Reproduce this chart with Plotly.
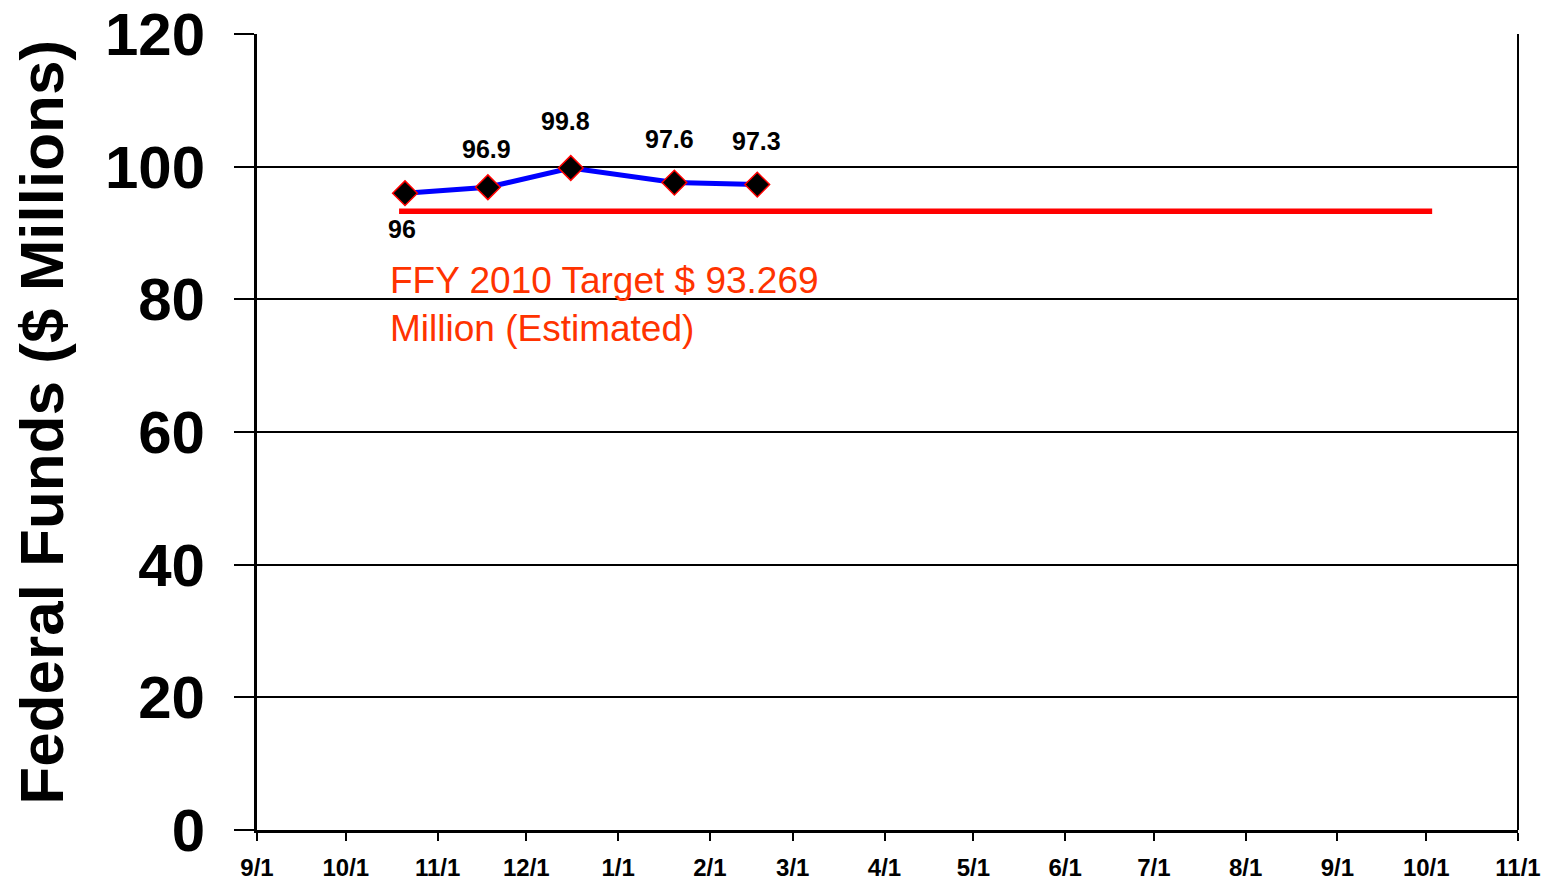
import plotly.graph_objects as go

# Data
dates = ["2009-10-21", "2009-11-18", "2009-12-16", "2010-01-20", "2010-02-17"]
values = [96, 96.9, 99.8, 97.6, 97.3]
label_texts = ["96", "96.9", "99.8", "97.6", "97.3"]
target_dates = ["2009-10-19", "2010-10-03"]
target_value = 93.269
target_values = [target_value, target_value]
tick_dates = ["2009-09-01", "2009-10-01", "2009-11-01", "2009-12-01", "2010-01-01",
              "2010-02-01", "2010-03-01", "2010-04-01", "2010-05-01", "2010-06-01",
              "2010-07-01", "2010-08-01", "2010-09-01", "2010-10-01", "2010-11-01"]
tick_labels = ["9/1", "10/1", "11/1", "12/1", "1/1", "2/1", "3/1", "4/1", "5/1",
               "6/1", "7/1", "8/1", "9/1", "10/1", "11/1"]
y_ticks = [0, 20, 40, 60, 80, 100, 120]
y_title = "Federal Funds ($ Millions)"

# label offsets (style)
label_yshift = [-36, 38, 47, 44, 44]
label_xshift = [-3, -1, -5, -5, -1]

FONT = "Liberation Sans, Arial, sans-serif"

fig = go.Figure()
fig.add_trace(go.Scatter(
    x=target_dates, y=target_values, mode="lines",
    line=dict(color="#FF0000", width=5.5), hoverinfo="skip", showlegend=False))
fig.add_trace(go.Scatter(
    x=dates, y=values, mode="lines+markers",
    line=dict(color="#0000FF", width=5),
    marker=dict(symbol="diamond", size=19, color="black",
                line=dict(color="#FF0000", width=1.5)),
    showlegend=False))

for d, v, t, ys, xs in zip(dates, values, label_texts, label_yshift, label_xshift):
    fig.add_annotation(x=d, y=v, text=t, showarrow=False, yshift=ys, xshift=xs,
                       font=dict(family=FONT, size=25, color="black", weight="bold"))

fig.add_annotation(
    xref="paper", yref="paper", x=0.104, y=0.66, xanchor="left", yanchor="middle",
    align="left", showarrow=False,
    text=f"FFY 2010 Target $ {target_value}<br>Million (Estimated)",
    font=dict(family=FONT, size=37, color="#FF3300"))

# y-axis title
fig.add_annotation(
    xref="paper", yref="paper", x=-0.1705, y=0.513, xanchor="center", yanchor="middle",
    textangle=-90, showarrow=False, text=y_title,
    font=dict(family=FONT, size=62, color="black", weight="bold"))

fig.add_shape(type="line", xref="paper", yref="paper", x0=1, x1=1, y0=0, y1=1,
              line=dict(color="black", width=2))

# page body has an 8px margin; size figure to fit the 1553x883 window
fig.update_layout(
    width=1537, height=875,
    margin=dict(l=249, r=27, t=26, b=53),
    paper_bgcolor="white", plot_bgcolor="white",
    xaxis=dict(
        type="date", range=["2009-09-01", "2010-11-01"], automargin=False,
        tickvals=tick_dates, ticktext=tick_labels,
        ticks="outside", ticklen=8, tickwidth=2, tickcolor="black",
        ticklabelstandoff=6, ticklabeloverflow="allow",
        showline=True, linecolor="black", linewidth=3,
        showgrid=False, zeroline=False,
        tickfont=dict(family=FONT, size=24, color="black", weight="bold"),
    ),
    yaxis=dict(
        range=[0, 120], tickvals=y_ticks, automargin=False,
        ticks="outside", ticklen=20, tickwidth=2, tickcolor="black",
        ticklabelstandoff=17, ticklabeloverflow="allow",
        showline=True, linecolor="black", linewidth=3,
        showgrid=True, gridcolor="black", gridwidth=1.5, zeroline=False,
        tickfont=dict(family=FONT, size=60, color="black", weight="bold"),
    ),
)

fig.write_html("out.html")
